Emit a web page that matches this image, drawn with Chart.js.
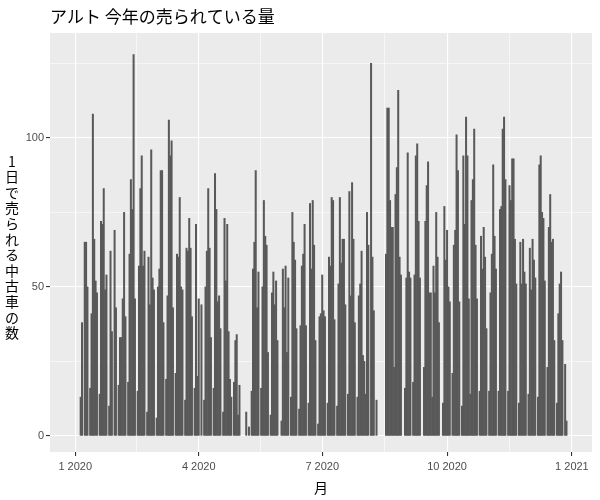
<!DOCTYPE html>
<html lang="ja">
<head>
<meta charset="utf-8">
<title>アルト 今年の売られている量</title>
<script src="https://cdn.jsdelivr.net/npm/chart.js@4.4.1/dist/chart.umd.min.js"></script>
<style>
  html, body { margin: 0; padding: 0; background: #fff; }
  #wrap { width: 600px; height: 500px; }
</style>
</head>
<body>
<div id="wrap"><canvas id="chart" width="600" height="500"></canvas></div>
<script>
// 2020年の日別の台数（index 0 = 1月1日）
const jan = [0,0,0,0,13,38,0,65,65,50,0,16,41,108,66,52,48,0,14,72,71,83,49,54,0,10,62,35,0,69,43];
const feb = [0,17,33,33,46,75,40,0,18,61,86,76,128,46,0,15,57,83,94,57,62,0,8,60,44,96,53,49,0];
const mar = [6,50,56,89,89,38,0,19,47,106,94,99,43,0,21,61,60,80,50,49,0,12,63,62,73,63,40,0,16,71,20];
const apr = [46,0,44,0,12,50,62,83,63,33,0,16,88,76,45,47,36,0,8,73,52,71,35,19,13,0,18,32,34,7];
const may = [17,0,0,0,0,8,0,3,0,15,56,65,89,43,55,0,16,50,79,67,64,28,0,7,48,55,44,52,32,0,0];
const jun = [5,56,43,57,28,53,0,13,75,65,59,36,0,9,37,57,61,71,37,0,11,78,56,79,64,32,0,4,40,41];
const jul = [54,42,40,0,11,60,57,80,79,39,0,10,51,80,58,66,66,44,0,14,82,47,85,66,38,0,13,47,51,62,27];
const aug = [25,14,75,64,0,125,60,42,0,12,0,0,0,0,0,0,61,110,110,79,70,70,23,81,90,116,60,54,0,0,16];
const sep = [53,95,55,53,0,18,54,94,98,72,53,0,0,23,72,84,92,48,48,13,57,48,75,60,38,0,0,11,77,59];
const oct = [69,50,45,0,21,64,69,101,89,45,0,10,94,71,107,94,46,14,79,86,103,64,46,0,15,67,56,70,60,36,0];
const nov = [15,48,61,91,67,56,0,15,76,77,103,107,86,0,15,84,79,93,93,66,51,0,11,65,51,66,55,51,0,14];
const dec = [63,49,66,59,53,0,13,91,94,75,73,52,0,23,70,81,65,66,32,0,11,41,51,55,32,0,24,5,0,0,0];

// 目盛り（日数）
const xTickDays = [0, 91, 182, 274, 366];
const xTickLabels = ['1 2020', '4 2020', '7 2020', '10 2020', '1 2021'];
const xMinorDays = [45.5, 136.5, 228, 320];
const yTicks = [0, 50, 100];
const yMinorTicks = [25, 75, 125];

const titleText = 'アルト 今年の売られている量';
const yTitle = '1日で売られる中古車の数';
const xTitle = '月';

const values = [].concat(jan, feb, mar, apr, may, jun, jul, aug, sep, oct, nov, dec);
// 0台の日は棒を描かない
const points = values.map((v, i) => ({ x: i, y: v > 0 ? v : null }));

const isMinor = (list, v) => list.indexOf(v) >= 0;

// パネル背景
const panelBg = {
  id: 'panelBg',
  beforeDraw(chart) {
    const { ctx, chartArea: a } = chart;
    ctx.save();
    ctx.fillStyle = '#EBEBEB';
    ctx.fillRect(a.left, a.top, a.right - a.left, a.bottom - a.top);
    ctx.restore();
  }
};

// タイトルと軸ラベル
const textLabels = {
  id: 'textLabels',
  afterDraw(chart) {
    const { ctx, chartArea: a } = chart;
    ctx.save();
    ctx.fillStyle = '#000';
    ctx.textBaseline = 'middle';
    ctx.font = '17px "Noto Sans CJK JP"';
    ctx.textAlign = 'left';
    ctx.fillText(titleText, a.left, 17);

    ctx.font = '14px "Noto Sans CJK JP"';
    ctx.textAlign = 'center';
    ctx.fillText(xTitle, (a.left + a.right) / 2, 488);

    // 縦書き風に1文字ずつ
    const chars = Array.from(yTitle);
    const step = 15.6;
    const mid = 247;
    chars.forEach((c, i) => {
      ctx.fillText(c, 12, mid + (i - (chars.length - 1) / 2) * step);
    });
    ctx.restore();
  }
};

new Chart(document.getElementById('chart'), {
  type: 'bar',
  data: {
    datasets: [{
      data: points,
      backgroundColor: '#595959',
      borderWidth: 0,
      barPercentage: 1,
      categoryPercentage: 1
    }]
  },
  options: {
    responsive: false,
    animation: false,
    devicePixelRatio: 1,
    layout: { padding: { top: 33, right: 8, left: 0, bottom: 0 } },
    plugins: {
      legend: { display: false },
      tooltip: { enabled: false },
      title: { display: false }
    },
    scales: {
      x: {
        type: 'linear',
        min: -18.6,
        max: 380.8,
        offset: false,
        afterFit: (s) => { s.height = 48; },
        afterBuildTicks: (s) => {
          s.ticks = xTickDays.concat(xMinorDays).map(v => ({ value: v }));
        },
        border: { display: false },
        grid: {
          offset: false,
          color: '#FFFFFF',
          lineWidth: (c) => (c.tick && isMinor(xMinorDays, c.tick.value) ? 0.55 : 1.1),
          tickColor: (c) => (c.tick && isMinor(xMinorDays, c.tick.value) ? 'rgba(0,0,0,0)' : '#333333'),
          tickLength: 4
        },
        ticks: {
          autoSkip: false,
          maxRotation: 0,
          padding: 4,
          color: '#4D4D4D',
          font: { family: '"Liberation Sans", Arial, sans-serif', size: 11 },
          callback: (v) => {
            const i = xTickDays.indexOf(v);
            return i >= 0 ? xTickLabels[i] : '';
          }
        }
      },
      y: {
        type: 'linear',
        min: -5.4,
        max: 135.2,
        afterFit: (s) => { s.width = 50; },
        afterBuildTicks: (s) => {
          s.ticks = yTicks.concat(yMinorTicks).map(v => ({ value: v }));
        },
        border: { display: false },
        grid: {
          color: '#FFFFFF',
          lineWidth: (c) => (c.tick && isMinor(yMinorTicks, c.tick.value) ? 0.55 : 1.1),
          tickColor: (c) => (c.tick && isMinor(yMinorTicks, c.tick.value) ? 'rgba(0,0,0,0)' : '#333333'),
          tickLength: 4
        },
        ticks: {
          autoSkip: false,
          padding: 2,
          color: '#4D4D4D',
          font: { family: '"Liberation Sans", Arial, sans-serif', size: 11 },
          callback: (v) => (yTicks.indexOf(v) >= 0 ? String(v) : '')
        }
      }
    }
  },
  plugins: [panelBg, textLabels]
});
</script>
</body>
</html>
